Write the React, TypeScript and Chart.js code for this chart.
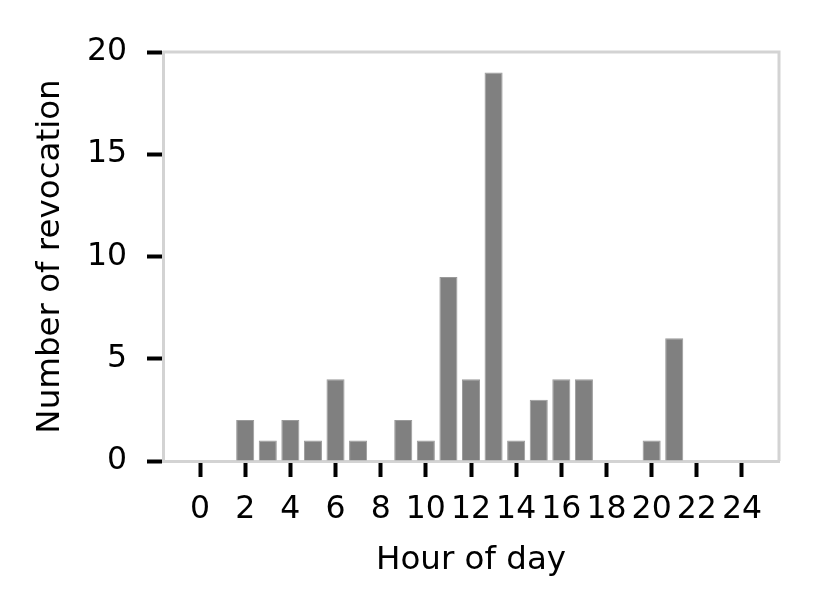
import React, { useEffect, useRef } from "react";
import { Chart, registerables } from "chart.js";

Chart.register(...registerables);

const hours: number[] = [0, 1, 2, 3, 4, 5, 6, 7, 8, 9, 10, 11, 12, 13, 14, 15, 16, 17, 18, 19, 20, 21, 22, 23, 24];
const revocations: number[] = [0, 0, 2, 1, 2, 1, 4, 1, 0, 2, 1, 9, 4, 19, 1, 3, 4, 4, 0, 0, 1, 6, 0, 0, 0];
const xTickValues: number[] = [0, 2, 4, 6, 8, 10, 12, 14, 16, 18, 20, 22, 24];
const yTickValues: number[] = [0, 5, 10, 15, 20];

const FONT = "'DejaVu Sans', sans-serif";

const frame = {
  id: "frame",
  afterDatasetsDraw(chart: any) {
    const { ctx, chartArea } = chart;
    ctx.save();
    ctx.strokeStyle = "#d3d3d3";
    ctx.lineWidth = 3;
    ctx.beginPath();
    ctx.moveTo(chartArea.left, chartArea.top);
    ctx.lineTo(chartArea.right, chartArea.top);
    ctx.lineTo(chartArea.right, chartArea.bottom);
    ctx.stroke();
    ctx.restore();
  },
};

export default function App() {
  const ref = useRef<HTMLCanvasElement | null>(null);
  useEffect(() => {
    if (!ref.current) return;
    const chart = new Chart(ref.current, {
      type: "bar",
      data: {
        datasets: [
          {
            data: hours.map((h, i) => ({ x: h, y: revocations[i] })),
            backgroundColor: "#808080",
            borderColor: "#9a9a9a",
            borderWidth: 1,
            barPercentage: 1,
            categoryPercentage: 0.8,
          },
        ],
      },
      plugins: [frame],
      options: {
        animation: false,
        responsive: false,
        devicePixelRatio: 1,
        layout: { padding: { top: 52, right: 53, left: 0, bottom: 0 } },
        plugins: { legend: { display: false }, tooltip: { enabled: false } },
        scales: {
          x: {
            type: "linear",
            offset: false,
            min: -1.64,
            max: 25.64,
            afterBuildTicks: (s: any) => {
              s.ticks = xTickValues.map((v) => ({ value: v }));
            },
            afterFit: (s: any) => {
              s.height = 155;
            },
            ticks: {
              autoSkip: false,
              maxRotation: 0,
              minRotation: 0,
              padding: 14,
              color: "#000",
              font: { family: FONT, size: 31.5 },
              callback: (v: any) => String(v),
            },
            grid: {
              offset: false,
              drawOnChartArea: false,
              drawTicks: true,
              tickLength: 16,
              tickWidth: 4,
              tickColor: "#000",
            },
            border: { color: "#d3d3d3", width: 3 },
            title: {
              display: true,
              text: "Hour of day",
              color: "#000",
              font: { family: FONT, size: 32.5 },
              padding: { top: 0, bottom: 36 },
            },
          },
          y: {
            min: 0,
            max: 20,
            afterBuildTicks: (s: any) => {
              s.ticks = yTickValues.map((v) => ({ value: v }));
            },
            afterFit: (s: any) => {
              s.width = 163;
            },
            ticks: {
              padding: 20,
              color: "#000",
              font: { family: FONT, size: 31.5 },
            },
            grid: {
              drawOnChartArea: false,
              drawTicks: true,
              tickLength: 16,
              tickWidth: 4,
              tickColor: "#000",
            },
            border: { color: "#d3d3d3", width: 3 },
            title: {
              display: true,
              text: "Number of revocation",
              color: "#000",
              font: { family: FONT, size: 32.5 },
              padding: { top: 31, bottom: 0 },
            },
          },
        },
      },
    });
    return () => chart.destroy();
  }, []);
  return (
    <div style={{ position: "fixed", left: 0, top: 0, width: 832, height: 616, background: "#fff" }}>
      <canvas ref={ref} width={832} height={616} />
    </div>
  );
}
